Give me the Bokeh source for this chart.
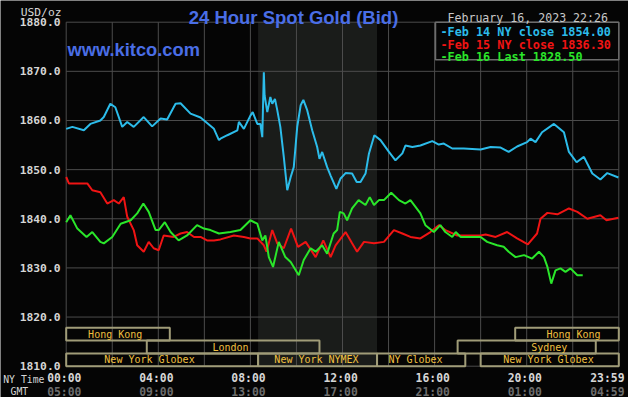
from bokeh.plotting import figure
from bokeh.models import Range1d, Label
from bokeh.embed import file_html
from bokeh.resources import INLINE

# ---------------- data (NY time, USD/oz) ----------------
feb14_times = ["0:00", "0:16", "0:46", "1:03", "1:29", "1:38", "1:55", "2:08", "2:26", "2:39", "2:56",
               "3:22", "3:44", "4:06", "4:23", "4:45", "4:58", "5:24", "5:50", "6:25", "6:38", "6:42",
               "7:00", "7:26", "7:30", "7:43", "8:00", "8:06", "8:18", "8:26", "8:31", "8:35", "8:37",
               "8:44", "8:52", "8:57", "9:04", "9:10", "9:18", "9:27", "9:36", "9:45", "9:53", "10:02",
               "10:11", "10:18", "10:28", "10:41", "10:54", "11:00", "11:07", "11:20", "11:29", "11:44",
               "11:55", "12:08", "12:25", "12:37", "12:47", "13:00", "13:09", "13:23", "13:39", "14:01",
               "14:18", "14:36", "14:44", "15:02", "15:23", "15:54", "16:11", "16:24", "16:46", "17:16",
               "18:00", "18:26", "18:52", "19:13", "19:35", "20:01", "20:10", "20:23", "20:40", "21:11",
               "21:37", "21:50", "22:10", "22:29", "22:51", "23:12", "23:30", "23:59"]
feb14_prices = [1858.3, 1858.7, 1858.0, 1859.3, 1860.0, 1860.7, 1863.4, 1862.7, 1858.7, 1859.7, 1858.7,
                1860.7, 1858.8, 1860.4, 1860.2, 1863.4, 1863.5, 1861.4, 1860.6, 1858.3, 1856.0, 1856.3,
                1857.0, 1858.0, 1859.7, 1858.3, 1861.0, 1861.7, 1859.3, 1859.3, 1856.6, 1869.8, 1865.1,
                1861.7, 1864.8, 1863.4, 1864.4, 1862.1, 1858.7, 1852.6, 1845.8, 1848.5, 1850.5, 1858.7,
                1863.1, 1864.2, 1862.1, 1858.0, 1854.6, 1852.2, 1853.6, 1850.5, 1848.8, 1846.1,
                1848.2, 1849.3, 1849.2, 1847.5, 1847.5, 1849.2, 1853.3, 1857.0, 1856.0, 1853.6,
                1851.9, 1853.3, 1854.9, 1854.6, 1854.9, 1855.8, 1855.1, 1855.3, 1854.3, 1854.3,
                1854.1, 1854.6, 1854.5, 1853.6, 1854.7, 1855.6, 1856.3, 1855.6, 1857.6, 1859.3,
                1857.6, 1853.6, 1851.5, 1852.6, 1849.2, 1848.0, 1849.3, 1848.4]

feb15_times = ["0:00", "0:07", "0:55", "1:08", "1:29", "1:47", "2:04", "2:17", "2:30", "2:39", "2:56",
               "3:05", "3:22", "3:35", "3:48", "4:01", "4:14", "4:40", "4:58", "5:15", "5:33", "5:50",
               "6:07", "6:25", "6:42", "7:17", "7:43", "8:00", "8:18", "8:35", "8:42", "8:57", "9:10",
               "9:27", "9:46", "10:04", "10:24", "10:50", "11:10", "11:29", "11:42", "12:08", "12:25",
               "12:38", "12:56", "13:22", "13:48", "14:14", "14:36", "14:57", "15:23", "15:49", "16:11",
               "16:28", "16:59", "18:00", "18:13", "18:39", "19:09", "19:35", "20:03", "20:27", "20:36",
               "20:54", "21:20", "21:50", "22:12", "22:38", "23:12", "23:28", "23:59"]
feb15_prices = [1848.5, 1847.2, 1847.2, 1845.8, 1845.4, 1843.1, 1843.8, 1843.1, 1844.4, 1840.4, 1837.7,
                1834.6, 1833.3, 1835.3, 1834.0, 1833.6, 1836.6, 1836.3, 1837.0, 1837.3, 1836.3, 1836.3,
                1835.6, 1835.6, 1835.8, 1836.6, 1836.3, 1836.0, 1836.0, 1834.6, 1833.3, 1837.7, 1835.0,
                1834.0, 1838.0, 1834.3, 1835.3, 1832.2, 1835.6, 1832.2, 1834.6, 1837.3, 1835.0,
                1833.3, 1835.3, 1835.0, 1835.3, 1837.7, 1837.0, 1836.3, 1836.0, 1837.3, 1838.7,
                1837.7, 1836.6, 1836.6, 1836.8, 1836.3, 1837.3, 1836.0, 1834.8, 1837.0, 1840.0,
                1841.2, 1840.9, 1842.1, 1841.4, 1840.0, 1840.7, 1839.7, 1840.2]

feb16_times = ["0:00", "0:11", "0:29", "0:53", "1:08", "1:29", "1:38", "2:00", "2:22", "2:48", "3:05",
               "3:21", "3:35", "3:53", "4:01", "4:17", "4:32", "4:53", "5:15", "5:41", "5:59", "6:16",
               "6:38", "7:08", "7:34", "8:00", "8:18", "8:31", "8:39", "8:48", "8:59", "9:14", "9:31",
               "9:45", "10:06", "10:19", "10:37", "10:50", "11:07", "11:20", "11:37", "11:46", "11:53",
               "12:03", "12:12", "12:25", "12:42", "13:00", "13:11", "13:22", "13:35", "13:48", "14:07",
               "14:27", "14:44", "14:57", "15:23", "15:36", "15:58", "16:15", "16:28", "16:46", "16:55",
               "17:08", "18:00", "18:17", "18:43", "19:00", "19:13", "19:31", "19:53", "20:14", "20:32",
               "20:45", "20:54", "21:04", "21:15", "21:28", "21:41", "21:54", "22:12", "22:26"]
feb16_prices = [1839.3, 1840.7, 1838.0, 1836.3, 1837.3, 1835.3, 1835.0, 1836.3, 1839.0, 1839.7, 1841.1,
                1843.1, 1841.4, 1837.7, 1837.7, 1839.3, 1837.3, 1835.6, 1836.6, 1838.7, 1838.0, 1837.7,
                1837.0, 1837.3, 1837.7, 1839.7, 1839.0, 1835.6, 1836.6, 1832.2, 1830.2, 1835.3, 1832.2,
                1831.2, 1828.5, 1831.6, 1834.0, 1833.3, 1834.6, 1832.9, 1837.0, 1837.7, 1841.4,
                1841.1, 1839.7, 1842.1, 1843.8, 1842.8, 1844.4, 1842.8, 1843.8, 1843.8, 1845.3,
                1843.8, 1843.1, 1843.8, 1841.1, 1838.7, 1837.3, 1838.7, 1837.3, 1836.3, 1837.3,
                1836.3, 1836.3, 1835.3, 1834.6, 1834.3, 1833.3, 1832.2, 1832.6, 1831.9, 1833.3,
                1832.2, 1830.2, 1826.8, 1829.5, 1829.9, 1829.2, 1829.9, 1828.5, 1828.5]

legend_texts = ["-Feb 14 NY close 1854.00", "-Feb 15 NY close 1836.30", "-Feb 16 Last 1828.50"]
title_text = "24 Hour Spot Gold (Bid)"
site_text = "www.kitco.com"
date_text = "February 16, 2023 22:26"
unit_text = "USD/oz"

y_ticks = [1810, 1820, 1830, 1840, 1850, 1860, 1870, 1880]
x_grid_times = ["0:00", "2:00", "4:00", "6:00", "8:00", "10:00", "12:00",
                "14:00", "16:00", "18:00", "20:00", "22:00", "24:00"]
ny_tick_times = ["0:00", "4:00", "8:00", "12:00", "16:00", "20:00", "24:00"]
ny_tick_labels = ["00:00", "04:00", "08:00", "12:00", "16:00", "20:00", "23:59"]
gmt_tick_labels = ["05:00", "09:00", "13:00", "17:00", "21:00", "01:00", "04:59"]

session_names = ["Hong Kong", "Hong Kong", "London", "Sydney",
                 "New York Globex", "New York NYMEX", "NY Globex", "New York Globex"]
session_start = ["0:00", "19:30", "3:30", "17:00", "0:00", "8:20", "13:30", "18:00"]
session_end = ["4:30", "24:00", "11:00", "23:00", "8:20", "13:30", "17:20", "24:00"]
session_row = [1, 1, 2, 2, 3, 3, 3, 3]
nymex_hours = ["8:20", "13:30"]

# ---------------- layout / style (pixels) ----------------
W, H = 628, 397
FL, FR, FT, FB = 65.7, 618.3, 21.7, 365.7      # chart box in canvas pixels
PXM = (FR - FL) / 1440.0                       # px per minute
PYU = (FB - FT) / 70.0                         # px per USD
ROW_H = 12.8 / PYU                             # session row height (USD units)
session_label_px = [114.7, 573, 230, 548.7, 149, 316, 415, 548]
LEG_LEFT_PX, LEG_BOTTOM_PX = 435, 59.3

MONO = "DejaVu Sans Mono"
SANS = "Liberation Sans"
BG = "#050505"
GRID = "#4c4c4c"
SHADE = "#1a1c1a"
BOX = "#a09c78"
BOX_TEXT = "#f0c040"
CYAN, RED, GREEN = "#2cbcea", "#f01414", "#2ae62a"
BLUE = "#4a6ee6"
LIGHT, DIM = "#d6d6d6", "#6c6c6c"


def tm(s):
    h, m = s.split(":")
    return int(h) * 60 + int(m)


def X(px):
    return (px - FL) / PXM


def Y(py):
    return 1880 - (py - FT) / PYU


p = figure(width=W, height=H, x_range=Range1d(X(0), X(W)), y_range=Range1d(Y(H), Y(0)),
           x_axis_type=None, y_axis_type=None,
           output_backend="svg", toolbar_location=None,
           min_border=0, background_fill_color=BG, border_fill_color=BG)
p.title.visible = False
p.outline_line_color = None

# NYMEX shading
p.quad(left=[tm(nymex_hours[0])], right=[tm(nymex_hours[1])], bottom=[1810], top=[1880],
       fill_color=SHADE, line_color=None)

# grid (from the tick lists)
gx = [tm(t) for t in x_grid_times]
p.segment(x0=gx, y0=[1810] * len(gx), x1=gx, y1=[1880] * len(gx), line_color=GRID, line_width=1)
p.segment(x0=[0] * len(y_ticks), y0=y_ticks, x1=[1440] * len(y_ticks), y1=y_ticks,
          line_color=GRID, line_width=1)

# session boxes
s_bottom = [1810 + (3 - r) * ROW_H for r in session_row]
p.quad(left=[tm(s) for s in session_start], right=[tm(s) for s in session_end],
       bottom=s_bottom, top=[b + ROW_H for b in s_bottom],
       fill_color=None, line_color=BOX, line_width=2)
for name, px, b in zip(session_names, session_label_px, s_bottom):
    p.add_layout(Label(x=X(px), y=b + ROW_H / 2, text=name, text_font=MONO, text_font_size="10px",
                       text_color=BOX_TEXT, text_align="center", text_baseline="middle"))

# price lines
for times, prices, col in [(feb14_times, feb14_prices, CYAN),
                           (feb15_times, feb15_prices, RED),
                           (feb16_times, feb16_prices, GREEN)]:
    p.line([tm(t) for t in times], prices, line_color=col, line_width=2)

# legend box
p.quad(left=[X(LEG_LEFT_PX)], right=[1440], bottom=[Y(LEG_BOTTOM_PX)], top=[1880],
       fill_color=BG, line_color="#6c6c6c", line_width=1.5)
for i, (txt, col) in enumerate(zip(legend_texts, [CYAN, RED, GREEN])):
    p.add_layout(Label(x=X(LEG_LEFT_PX + 5), y=Y(31.5 + i * 12.5), text=txt,
                       text_font=MONO, text_font_style="bold", text_font_size="11.8px",
                       text_color=col, text_align="left", text_baseline="alphabetic"))

# header texts
p.add_layout(Label(x=X(293), y=Y(16.8), text=title_text, text_font=SANS,
                   text_font_style="bold", text_font_size="18.5px", text_color=BLUE,
                   text_align="center", text_baseline="alphabetic"))
p.add_layout(Label(x=X(67), y=Y(49.3), text=site_text, text_font=SANS,
                   text_font_style="bold", text_font_size="18.3px", text_color=BLUE,
                   text_align="left", text_baseline="alphabetic"))
p.add_layout(Label(x=X(607.5), y=Y(17.5), text=date_text, text_font=MONO,
                   text_font_size="11.6px", text_color="#c8c8c8",
                   text_align="right", text_baseline="alphabetic"))
p.add_layout(Label(x=X(61), y=Y(11.5), text=unit_text, text_font=MONO,
                   text_font_size="11.3px", text_color=LIGHT,
                   text_align="right", text_baseline="alphabetic"))

# y tick labels
for t in y_ticks:
    p.add_layout(Label(x=0, y=t, x_offset=-5.7, text=f"{t:.1f}", text_font=MONO,
                       text_font_style="bold", text_font_size="11.3px", text_color=LIGHT,
                       text_align="right", text_baseline="middle"))

# x tick labels (NY time and GMT)
for i, (t, ny, gmt) in enumerate(zip(ny_tick_times, ny_tick_labels, gmt_tick_labels)):
    last = i == len(ny_tick_times) - 1
    kw = dict(x=tm(t), x_offset=5.7 if last else -1.9, y=1810, text_font=MONO,
              text_font_style="bold", text_font_size="11.4px",
              text_align="right" if last else "center", text_baseline="middle")
    p.add_layout(Label(y_offset=-11.5, text=ny, text_color=LIGHT, **kw))
    p.add_layout(Label(y_offset=-25.3, text=gmt, text_color=DIM, **kw))
p.add_layout(Label(x=X(2.7), y=Y(379), text="NY Time", text_font=MONO, text_font_size="9.8px",
                   text_color=LIGHT, text_align="left", text_baseline="middle"))
p.add_layout(Label(x=X(10), y=Y(391), text="GMT", text_font=MONO, text_font_size="9.8px",
                   text_color=LIGHT, text_align="left", text_baseline="middle"))

open("out.html", "w").write(file_html(p, INLINE))
